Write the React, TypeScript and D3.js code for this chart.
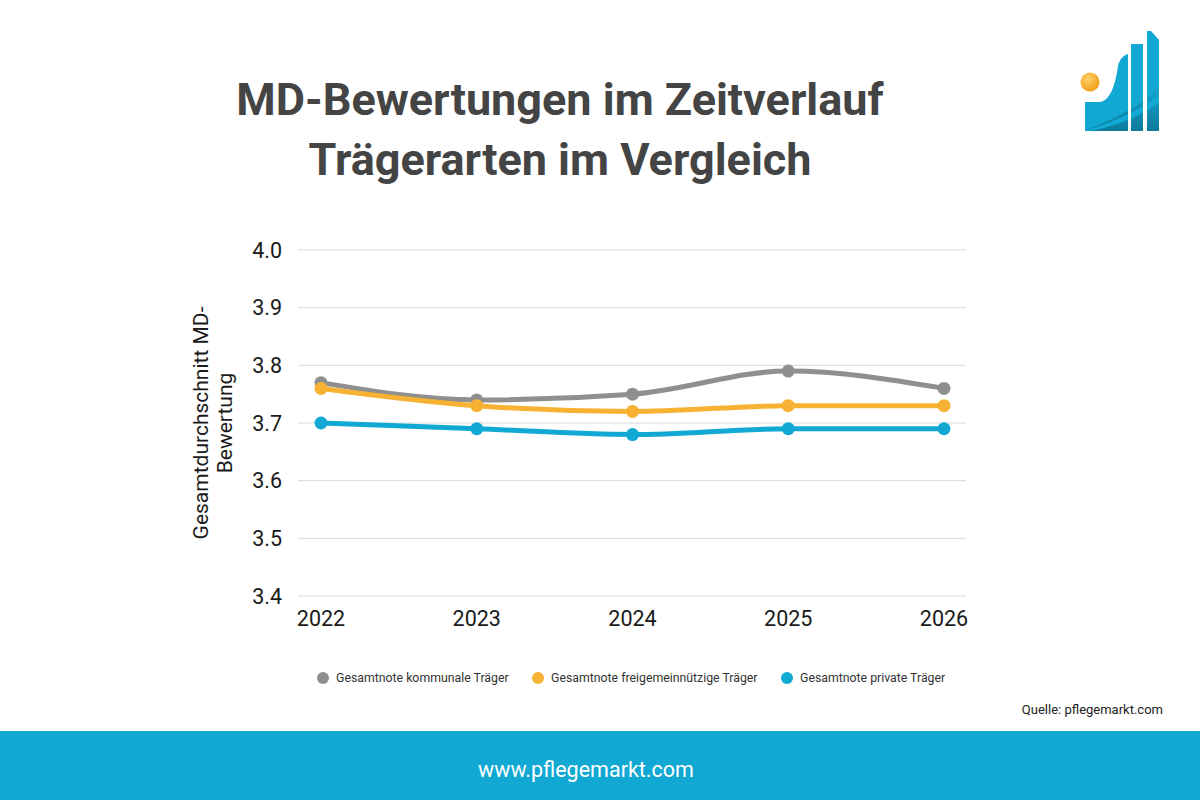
import { useEffect, useRef } from "react"
import * as d3 from "d3"

const years = ["2022", "2023", "2024", "2025", "2026"]
const kommunal = [3.77, 3.74, 3.75, 3.79, 3.76]
const freigemein = [3.76, 3.73, 3.72, 3.73, 3.73]
const privat = [3.7, 3.69, 3.68, 3.69, 3.69]
const yTicks = [3.4, 3.5, 3.6, 3.7, 3.8, 3.9, 4.0]

const seriesNames = [
  "Gesamtnote kommunale Träger",
  "Gesamtnote freigemeinnützige Träger",
  "Gesamtnote private Träger",
]
const seriesColors = ["#8f8f8f", "#f7b233", "#11a8d3"]

const App = () => {
  const ref = useRef<SVGSVGElement>(null)

  useEffect(() => {
    const svg = d3.select(ref.current)
    svg.selectAll("*").remove()
    const font = "Roboto, 'Noto Sans', sans-serif"

    svg.append("rect").attr("width", 1200).attr("height", 800).attr("fill", "#ffffff")

    // Title
    const title = svg.append("text")
      .attr("text-anchor", "middle")
      .attr("font-family", font)
      .attr("font-weight", 700)
      .attr("font-size", 45)
      .attr("fill", "#444444")
    title.append("tspan").attr("x", 560).attr("y", 115).text("MD-Bewertungen im Zeitverlauf")
    title.append("tspan").attr("x", 560).attr("y", 175).text("Trägerarten im Vergleich")

    // Logo
    const defs = svg.append("defs")
    const grad = defs.append("linearGradient")
      .attr("id", "logo-shade")
      .attr("x1", "0").attr("y1", "1").attr("x2", "0").attr("y2", "0")
    grad.append("stop").attr("offset", "0%").attr("stop-color", "#0b6f8c")
    grad.append("stop").attr("offset", "100%").attr("stop-color", "#0b6f8c").attr("stop-opacity", 0)
    const orange = defs.append("radialGradient").attr("id", "logo-sun")
      .attr("cx", "40%").attr("cy", "35%").attr("r", "70%")
    orange.append("stop").attr("offset", "0%").attr("stop-color", "#fdd36a")
    orange.append("stop").attr("offset", "100%").attr("stop-color", "#f29a12")
    defs.append("clipPath").attr("id", "logo-clip")
      .append("path")
      .attr("d", "M1085,102 L1100,102 C1112,100 1116,80 1118,66 C1120,58 1124,55 1128,54 L1128,131 L1085,131 Z M1131,44 L1143,44 L1143,131 L1131,131 Z M1147,31 L1151,31 L1159,40 L1159,131 L1147,131 Z")

    const logo = svg.append("g").attr("clip-path", "url(#logo-clip)")
    logo.append("rect").attr("x", 1080).attr("y", 25).attr("width", 85).attr("height", 110).attr("fill", "#11a8d3")
    logo.append("path")
      .attr("d", "M1085,131 C1110,120 1140,108 1162,84 L1162,131 Z")
      .attr("fill", "url(#logo-shade)")
      .attr("opacity", 0.8)
    logo.append("path")
      .attr("d", "M1085,131 C1110,122 1140,112 1162,92 L1162,100 C1140,118 1110,128 1090,131 Z")
      .attr("fill", "#11a8d3")
    svg.append("circle").attr("cx", 1090).attr("cy", 82).attr("r", 9.5).attr("fill", "url(#logo-sun)")

    // Scales
    const x = d3.scalePoint<string>().domain(years).range([321, 944])
    const y = d3.scaleLinear().domain([3.4, 4.0]).range([596, 250])

    // Grid
    svg.append("g").selectAll("line")
      .data(yTicks)
      .join("line")
      .attr("x1", 298).attr("x2", 966)
      .attr("y1", (d) => y(d)).attr("y2", (d) => y(d))
      .attr("stroke", "#d9d9d9")
      .attr("stroke-width", 1)

    // Y tick labels
    svg.append("g").selectAll("text")
      .data(yTicks)
      .join("text")
      .attr("x", 282)
      .attr("y", (d) => y(d))
      .attr("dy", "0.35em")
      .attr("text-anchor", "end")
      .attr("font-family", font)
      .attr("font-size", 21.5)
      .attr("fill", "#1a1a1a")
      .text((d) => d.toFixed(1))

    // X tick labels
    svg.append("g").selectAll("text")
      .data(years)
      .join("text")
      .attr("x", (d) => x(d) as number)
      .attr("y", 626)
      .attr("text-anchor", "middle")
      .attr("font-family", font)
      .attr("font-size", 21.5)
      .attr("fill", "#1a1a1a")
      .text((d) => d)

    // Y axis title
    const yTitle = svg.append("text")
      .attr("transform", "translate(208,423) rotate(-90)")
      .attr("text-anchor", "middle")
      .attr("font-family", font)
      .attr("font-size", 21)
      .attr("fill", "#1a1a1a")
    yTitle.append("tspan").attr("x", 0).attr("y", 0).text("Gesamtdurchschnitt MD-")
    yTitle.append("tspan").attr("x", 0).attr("y", 24).text("Bewertung")

    // Lines
    const allSeries = [kommunal, freigemein, privat]
    const line = d3.line<number>()
      .x((_, i) => x(years[i]) as number)
      .y((d) => y(d))
      .curve(d3.curveMonotoneX)

    allSeries.forEach((vals, si) => {
      const g = svg.append("g")
      g.append("path")
        .attr("d", line(vals))
        .attr("fill", "none")
        .attr("stroke", seriesColors[si])
        .attr("stroke-width", 5)
      g.selectAll("circle")
        .data(vals)
        .join("circle")
        .attr("cx", (_, i) => x(years[i]) as number)
        .attr("cy", (d) => y(d))
        .attr("r", 6.5)
        .attr("fill", seriesColors[si])
    })

    // Legend
    const legendX = [323, 538, 787]
    seriesNames.forEach((name, i) => {
      svg.append("circle")
        .attr("cx", legendX[i]).attr("cy", 678).attr("r", 6)
        .attr("fill", seriesColors[i])
      svg.append("text")
        .attr("x", legendX[i] + 13).attr("y", 678)
        .attr("dy", "0.35em")
        .attr("font-family", font)
        .attr("font-size", 12.3)
        .attr("fill", "#333333")
        .text(name)
    })

    // Source
    svg.append("text")
      .attr("x", 1163).attr("y", 714)
      .attr("text-anchor", "end")
      .attr("font-family", font)
      .attr("font-size", 13)
      .attr("fill", "#222222")
      .text("Quelle: pflegemarkt.com")

    // Footer
    svg.append("rect")
      .attr("x", 0).attr("y", 731).attr("width", 1200).attr("height", 69)
      .attr("fill", "#11a8d3")
    svg.append("text")
      .attr("x", 586).attr("y", 769)
      .attr("dy", "0.35em")
      .attr("text-anchor", "middle")
      .attr("font-family", font)
      .attr("font-size", 21.5)
      .attr("fill", "#ffffff")
      .text("www.pflegemarkt.com")
  }, [])

  return (
    <svg
      ref={ref}
      width={1200}
      height={800}
      style={{ position: "absolute", left: 0, top: 0, display: "block" }}
    />
  )
}

export default App
